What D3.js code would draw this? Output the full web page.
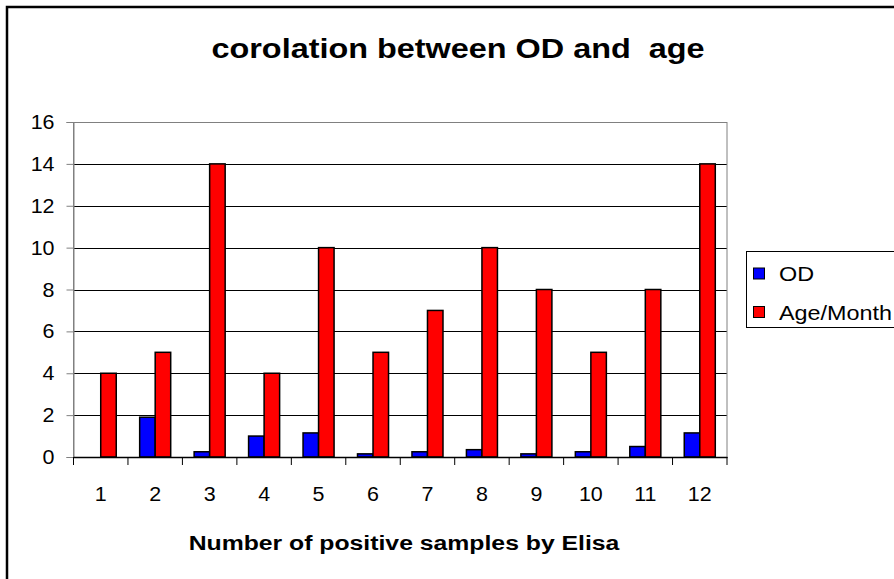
<!DOCTYPE html>
<html><head><meta charset="utf-8">
<script src="https://cdn.jsdelivr.net/npm/d3@7"></script>
<style>body{margin:0;background:#fff}svg{display:block;font-family:"Liberation Sans",Arial,sans-serif}text{white-space:pre}</style>
</head><body>
<script>
const categories = ["1","2","3","4","5","6","7","8","9","10","11","12"];
const odValues = [0, 1.9, 0.25, 1.0, 1.15, 0.15, 0.25, 0.35, 0.15, 0.25, 0.5, 1.15];
const ageValues = [4, 5, 14, 4, 10, 5, 7, 10, 8, 5, 8, 14];
const seriesNames = ["OD", "Age/Month"];
const seriesColors = ["#0000FF", "#FF0000"];
const yTicks = [0, 2, 4, 6, 8, 10, 12, 14, 16];
const titleText = "corolation between OD and  age";
const xTitle = "Number of positive samples by Elisa";

(function () {
const W = 894, H = 579;
const svg = d3.select("body").append("svg").attr("width", W).attr("height", H);

// outer chart border
svg.append("rect").attr("x", 7).attr("y", 7).attr("width", 960).attr("height", 640)
  .attr("fill", "#fff").attr("stroke", "#000").attr("stroke-width", 2.5);

const pL = 73.5, pR = 727, pT = 122, pB = 457;
const x0 = d3.scaleBand().domain(categories).range([pL, pR]).padding(0);
const x1 = d3.scaleBand().domain(seriesNames).range([0, x0.bandwidth()]).paddingInner(0).paddingOuter(0.755);
const y = d3.scaleLinear().domain([0, 16]).range([pB, pT]);

function stext(g, x, yy, txt, size, anchor, weight, scale) {
  return g.append("text")
    .attr("transform", `translate(${x},${yy}) scale(${scale},1)`)
    .attr("xml:space", "preserve")
    .attr("text-anchor", anchor).attr("font-size", size)
    .attr("font-weight", weight || "normal").attr("fill", "#000").text(txt);
}

// gridlines
svg.append("g").selectAll("line").data(yTicks.filter(d => d > 0 && d < 16)).join("line")
  .attr("x1", pL).attr("x2", pR).attr("y1", d => Math.round(y(d)) + 0.5).attr("y2", d => Math.round(y(d)) + 0.5)
  .attr("stroke", "#000").attr("stroke-width", 1);
// plot area border (gray)
svg.append("rect").attr("x", pL).attr("y", pT + 0.5).attr("width", pR - pL).attr("height", pB - pT)
  .attr("fill", "none").attr("stroke", "#808080").attr("stroke-width", 1);

// bars
const data = categories.map((c, i) => ({ c, vals: [odValues[i], ageValues[i]] }));
const groups = svg.append("g").selectAll("g").data(data).join("g")
  .attr("transform", d => `translate(${x0(d.c)},0)`);
groups.selectAll("rect").data(d => d.vals.map((v, j) => ({ v, s: seriesNames[j], col: seriesColors[j] })))
  .join("rect")
  .attr("x", d => x1(d.s)).attr("width", x1.bandwidth())
  .attr("y", d => y(d.v)).attr("height", d => pB - y(d.v))
  .attr("fill", d => d.col).attr("stroke", "#000").attr("stroke-width", 1.5);

// y axis
const yAxis = d3.axisLeft(y).tickValues(yTicks).tickSize(7).tickFormat("");
const ya = svg.append("g").attr("transform", `translate(${pL},0)`).call(yAxis);
ya.select(".domain").attr("stroke", "#808080");
ya.selectAll(".tick line").attr("stroke", "#808080");
yTicks.forEach(t => stext(svg, 54.5, y(t) + 7, String(t), 19.5, "end", "normal", 1.1));

// x axis
const xAxis = d3.axisBottom(x0).tickSize(0).tickFormat("");
const xa = svg.append("g").attr("transform", `translate(0,${pB})`).call(xAxis);
xa.select(".domain").attr("stroke", "#000").attr("stroke-width", 1.5);
const bounds = categories.map(c => x0(c)).concat([pR]);
svg.append("g").selectAll("line").data(bounds).join("line")
  .attr("x1", d => d).attr("x2", d => d).attr("y1", pB).attr("y2", pB + 8)
  .attr("stroke", "#000").attr("stroke-width", 1);
categories.forEach(c => stext(svg, x0(c) + x0.bandwidth() / 2, 500.5, c, 19.5, "middle", "normal", 1.1));

// titles
stext(svg, 458, 58, titleText, 27, "middle", "bold", 1.2);
stext(svg, 404, 550, xTitle, 21, "middle", "bold", 1.18);

// legend
const lg = svg.append("g");
lg.append("rect").attr("x", 746.5).attr("y", 251.5).attr("width", 200).attr("height", 76)
  .attr("fill", "#fff").attr("stroke", "#000").attr("stroke-width", 1);
seriesNames.forEach((s, i) => {
  const yy = 268 + i * 38.5;
  lg.append("rect").attr("x", 753.5).attr("y", yy).attr("width", 11).attr("height", 11)
    .attr("fill", seriesColors[i]).attr("stroke", "#000").attr("stroke-width", 1);
  stext(lg, 779, yy + 13, s, 20, "start", "normal", 1.17);
});
})();
</script>
</body></html>
